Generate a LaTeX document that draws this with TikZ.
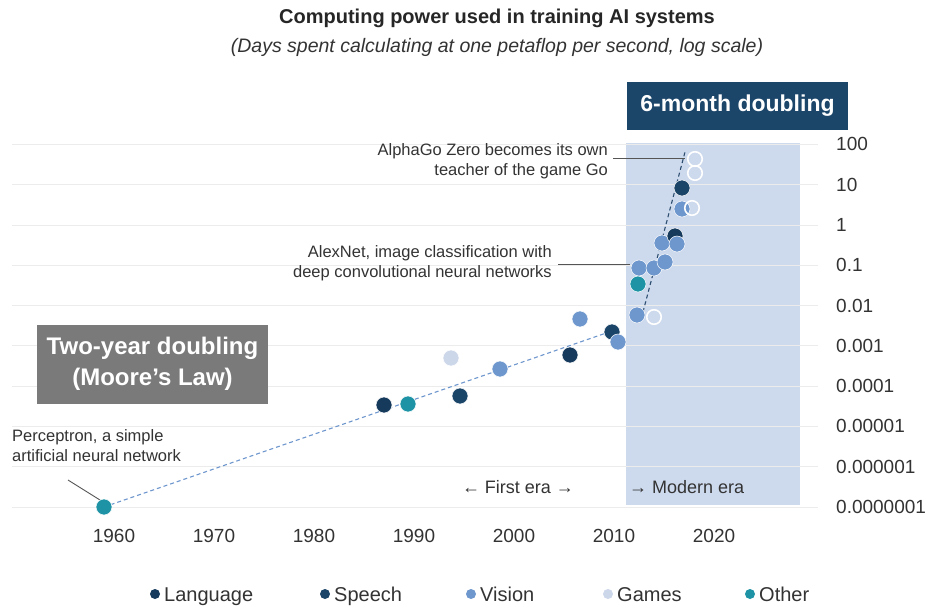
\documentclass[tikz,border=0pt]{standalone}
\usepackage{fontspec}
\setmainfont{Liberation Sans}
\definecolor{cLang}{HTML}{163A5C}
\definecolor{cSpeech}{HTML}{1B4568}
\definecolor{cVision}{HTML}{6E97CE}
\definecolor{cGames}{HTML}{CCD7EA}
\definecolor{cOther}{HTML}{1E93A5}
\definecolor{cShade}{HTML}{CDD9ED}
\definecolor{cNavy}{HTML}{1B4569}
\definecolor{cGray}{HTML}{7A7A7A}
\definecolor{cText}{HTML}{333333}
\definecolor{cGrid}{HTML}{ECECEC}
\definecolor{cMoore}{HTML}{6E97CE}
\definecolor{cSix}{HTML}{2E4E70}
\definecolor{cLeader}{HTML}{555555}
\begin{document}
\begin{tikzpicture}[x=1pt,y=-1pt,
  dot/.style={circle,inner sep=0pt,minimum size=16pt,draw=white,line width=0.5pt},
  lang/.style={dot,fill=cLang},
  speech/.style={dot,fill=cSpeech},
  vision/.style={dot,fill=cVision},
  gamesf/.style={dot,fill=cGames},
  gamesh/.style={circle,inner sep=0pt,minimum size=14.5pt,draw=white,line width=1.6pt},
  other/.style={dot,fill=cOther},
  legdot/.style={circle,inner sep=0pt,minimum size=10pt},
  lbl/.style={font=\fontsize{16.5}{20.5}\selectfont,text=cText,inner sep=0pt},
  axl/.style={font=\fontsize{19}{22}\selectfont,text=cText,inner sep=0pt},
  legt/.style={font=\fontsize{20}{24}\selectfont,text=cText,inner sep=0pt,anchor=base west},
  leader/.style={draw=cLeader,line width=0.9pt},
  trend/.style={dashed,dash pattern=on 4pt off 3pt,line width=1.1pt}]
\useasboundingbox (0,0) rectangle (927,607);
\fill[white] (0,0) rectangle (927,607);
% title
\node[font=\fontsize{20}{24}\selectfont\bfseries,text=black!85,inner sep=0pt] (title) at (497,18) {Computing power used in training AI systems};
\node[font=\fontsize{19.5}{24}\selectfont\itshape,text=cText,inner sep=0pt] (subtitle) at (497,47) {(Days spent calculating at one petaflop per second, log scale)};
% modern era shading
\fill[cShade] (626,143) rectangle (800,505);
% gridlines
\foreach \k in {0,...,9} \draw[cGrid,line width=0.8pt] (12,{507-40.3*\k}) -- (818,{507-40.3*\k});
% y labels
\foreach \k/\t in {0/0.0000001,1/0.000001,2/0.00001,3/0.0001,4/0.001,5/0.01,6/0.1,7/1,8/10,9/100}
  \node[axl,anchor=west] (ylab\k) at (836,{507-40.3*\k}) {\t};
% x labels
\foreach \k/\t in {0/1960,1/1970,2/1980,3/1990,4/2000,5/2010,6/2020}
  \node[axl] (xlab\k) at ({114+100*\k},536) {\t};
% era labels
\node[font=\fontsize{18}{22}\selectfont,text=cText,inner sep=0pt] (first) at (518,487) {← First era →};
\node[font=\fontsize{18}{22}\selectfont,text=cText,inner sep=0pt,anchor=west] (modern) at (629,487) {→ Modern era};
% boxes
\node[fill=cNavy,text=white,font=\fontsize{23}{27}\selectfont\bfseries,minimum width=221pt,minimum height=48pt,inner sep=0pt] (sixbox) at (737.5,106) {6-month doubling};
\node[fill=cGray,text=white,font=\fontsize{24}{31}\selectfont\bfseries,minimum width=231pt,minimum height=79pt,inner sep=0pt,align=center] (moorebox) at (152.5,364) {Two-year doubling\\(Moore’s Law)};
% trend line coordinates
\coordinate (mA) at (104,507);
\coordinate (mB) at (612,331);
\coordinate (sA) at (643,312);
\coordinate (sB) at (685,152);
\draw[trend,draw=cMoore] (mA) -- (mB);
\draw[trend,draw=cSix] (sA) -- (sB);
% annotations
\node[lbl,align=right,anchor=north east] (agtxt) at (608,143) {AlphaGo Zero becomes its own\\teacher of the game Go};
\coordinate (agA) at (613,158);
\coordinate (agB) at (685,158);
\draw[leader] (agA) -- (agB);
\node[lbl,align=right,anchor=north east] (axtxt) at (552,245) {AlexNet, image classification with\\deep convolutional neural networks};
\coordinate (axA) at (558,264);
\coordinate (axB) at (630,264);
\draw[leader] (axA) -- (axB);
\node[lbl,align=left,anchor=north west] (pctxt) at (12,429) {Perceptron, a simple\\artificial neural network};
\coordinate (pcA) at (68,480);
\coordinate (pcB) at (100,500);
\draw[leader] (pcA) -- (pcB);
% data points
\node[other] (p1) at (104,507) {};
\node[lang] (p2) at (384,405) {};
\node[other] (p3) at (408,404) {};
\node[speech] (p4) at (460,396) {};
\node[gamesf] (p5) at (451,358) {};
\node[vision] (p6) at (500,369) {};
\node[lang] (p7) at (570,355) {};
\node[vision] (p8) at (580,319) {};
\node[speech] (p9) at (612,332) {};
\node[vision] (p10) at (618,342) {};
\node[vision] (p11) at (637,315) {};
\node[gamesh] (p12) at (654,317) {};
\node[other] (p13) at (638,284) {};
\node[vision] (p14) at (639,268) {};
\node[vision] (p15) at (654,268) {};
\node[vision] (p16) at (665,262) {};
\node[vision] (p17) at (662,243) {};
\node[lang] (p18) at (675,236) {};
\node[vision] (p19) at (677,244) {};
\node[vision] (p20) at (682,209) {};
\node[gamesh] (p21) at (692,208) {};
\node[speech] (p22) at (682,188) {};
\node[gamesh] (p23) at (695,173) {};
\node[gamesh] (p24) at (695,159) {};
% legend
\node[legdot,fill=cLang] (lg1) at (155,594) {};
\node[legt] (lt1) at (164,601) {Language};
\node[legdot,fill=cSpeech] (lg2) at (325,594) {};
\node[legt] (lt2) at (334,601) {Speech};
\node[legdot,fill=cVision] (lg3) at (471,594) {};
\node[legt] (lt3) at (480,601) {Vision};
\node[legdot,fill=cGames] (lg4) at (608,594) {};
\node[legt] (lt4) at (617,601) {Games};
\node[legdot,fill=cOther] (lg5) at (750,594) {};
\node[legt] (lt5) at (759,601) {Other};
\end{tikzpicture}
\end{document}
